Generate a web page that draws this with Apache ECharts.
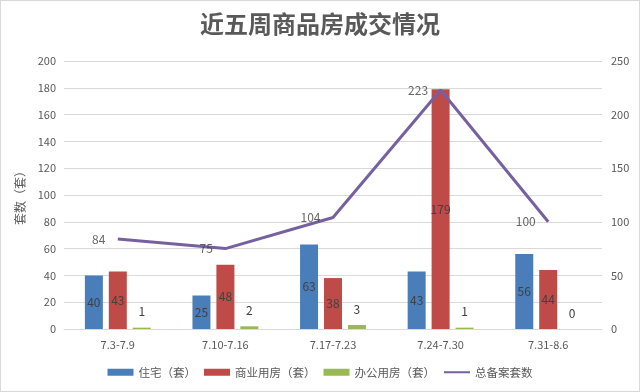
<!DOCTYPE html>
<html><head><meta charset="utf-8">
<script src="https://cdn.jsdelivr.net/npm/echarts@6/dist/echarts.min.js"></script>
<style>html,body{margin:0;padding:0;background:#fff}#c{width:640px;height:392px;box-sizing:border-box;border:1px solid #d9d9d9}</style>
</head><body><div id="c"></div>
<script>
const categories = ['7.3-7.9','7.10-7.16','7.17-7.23','7.24-7.30','7.31-8.6'];
const zhuzhai = [40,25,63,43,56];
const shangye = [43,48,38,179,44];
const bangong = [1,2,3,1,0];
const zongshu = [84,75,104,223,100];
const leftTicks = {min:0,max:200,interval:20};
const rightTicks = {min:0,max:250,interval:50};

const font = '"Microsoft YaHei","Noto Sans CJK SC",sans-serif';
const chart = echarts.init(document.getElementById('c'));
const inLabel = {show:true,position:'inside',color:'#404040',fontSize:12,fontFamily:font};
chart.setOption({
  animation:false,
  textStyle:{fontFamily:font},
  title:{text:'近五周商品房成交情况',left:'center',top:6,textStyle:{fontSize:24,fontWeight:'bold',color:'#595959',fontFamily:font}},
  legend:{bottom:8,itemGap:8,itemWidth:26,itemHeight:7,textStyle:{color:'#595959',fontSize:11.5,fontFamily:font},
    data:[{name:'住宅（套）',icon:'rect'},{name:'商业用房（套）',icon:'rect'},{name:'办公用房（套）',icon:'rect'},
      {name:'总备案套数',itemStyle:{opacity:0}}]},
  grid:{left:63,right:37,top:60,bottom:62},
  xAxis:{type:'category',data:categories,axisLine:{lineStyle:{color:'#d9d9d9'}},axisTick:{show:false},
    axisLabel:{color:'#595959',fontSize:11,margin:10}},
  yAxis:[
    {type:'value',min:leftTicks.min,max:leftTicks.max,interval:leftTicks.interval,name:'套数（套）',nameLocation:'middle',nameGap:36,nameRotate:90,
      nameTextStyle:{color:'#595959',fontSize:12},axisLabel:{color:'#595959',fontSize:11,margin:8},
      splitLine:{lineStyle:{color:'#d9d9d9'}},axisLine:{show:false},axisTick:{show:false}},
    {type:'value',min:rightTicks.min,max:rightTicks.max,interval:rightTicks.interval,position:'right',
      axisLabel:{color:'#595959',fontSize:11,margin:9},splitLine:{show:false},axisLine:{show:false},axisTick:{show:false}}
  ],
  series:[
    {name:'住宅（套）',type:'bar',data:zhuzhai,barWidth:18,barGap:'33%',itemStyle:{color:'#4a7ebb'},label:inLabel},
    {name:'商业用房（套）',type:'bar',data:shangye,barWidth:18,barGap:'33%',itemStyle:{color:'#be4b48'},label:inLabel},
    {name:'办公用房（套）',type:'bar',data:bangong,barWidth:18,barGap:'33%',itemStyle:{color:'#98b954'},
      label:{show:true,position:'top',distance:10,color:'#404040',fontSize:12}},
    {name:'总备案套数',type:'line',yAxisIndex:1,data:zongshu,symbol:'none',lineStyle:{color:'#7760a0',width:3},itemStyle:{color:'#7760a0'}},
    {name:'总备案套数标签',type:'scatter',yAxisIndex:1,data:zongshu,symbolSize:1,itemStyle:{color:'rgba(0,0,0,0)'},z:5,
      label:{show:true,position:'left',distance:12,color:'#404040',fontSize:12}}
  ]
});
</script></body></html>
